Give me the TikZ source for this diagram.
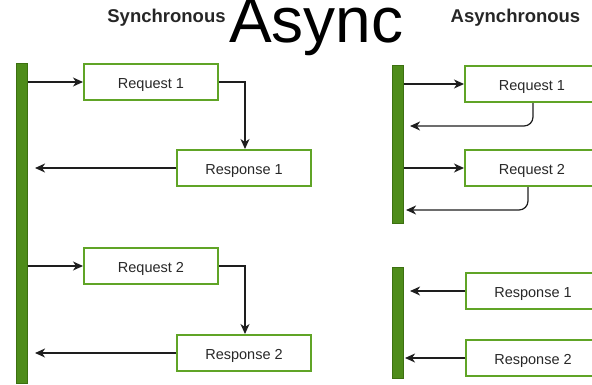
\documentclass[tikz,border=0pt]{standalone}
\usepackage{fontspec}
\setmainfont{Liberation Sans}
\usetikzlibrary{arrows.meta}
\definecolor{boxgreen}{RGB}{96,164,38}
\definecolor{barfill}{RGB}{78,140,26}
\definecolor{bardraw}{RGB}{60,112,16}
\definecolor{txt}{RGB}{40,40,40}
\definecolor{lne}{RGB}{30,30,30}
\tikzset{
  msgbox/.style={draw=boxgreen, line width=2pt, fill=white, minimum width=134pt, minimum height=36pt, inner sep=0pt, text height=13pt, text depth=0pt, text=txt, font=\fontsize{14.5pt}{16pt}\selectfont},
  lifebar/.style={draw=bardraw, fill=barfill, line width=0.6pt, minimum width=11.5pt, inner sep=0pt},
  arr/.style={draw=lne, line width=1.2pt, -{Stealth[length=10pt,width=9pt,inset=3pt]}},
  title/.style={font=\bfseries\fontsize{18.5pt}{20pt}\selectfont, text=black!85, inner sep=0pt, anchor=base}
}
\begin{document}
\begin{tikzpicture}[x=1pt,y=-1pt]
\useasboundingbox (0,0) rectangle (592,384);
\clip (0,0) rectangle (592,384);
% titles
\node[title] (tsync) at (166.5,22) {Synchronous};
\node[title] (tasync) at (515.5,22) {Asynchronous};
\node[font=\fontsize{64pt}{70pt}\selectfont, inner sep=0pt, anchor=base west] (big) at (229,42) {Async};
% synchronous
\node[lifebar, minimum height=320pt] (sbar) at (22,223) {};
\node[msgbox] (sreq1) at (151,82) {Request 1};
\node[msgbox] (sresp1) at (244,168) {Response 1};
\node[msgbox] (sreq2) at (151,266) {Request 2};
\node[msgbox] (sresp2) at (244,353) {Response 2};
\draw[arr] (sbar.east |- sreq1.west) -- (sreq1.west);
\draw[arr] (sreq1.east) -| ([xshift=1pt]sresp1.north);
\draw[arr] (sresp1.west) -- ([xshift=7pt]sbar.east |- sresp1.west);
\draw[arr] (sbar.east |- sreq2.west) -- (sreq2.west);
\draw[arr] (sreq2.east) -| ([xshift=1pt]sresp2.north);
\draw[arr] (sresp2.west) -- ([xshift=7pt]sbar.east |- sresp2.west);
% asynchronous
\node[lifebar, minimum height=158pt] (abar1) at (398,144) {};
\node[lifebar, minimum height=111pt] (abar2) at (398,322.5) {};
\node[msgbox] (areq1) at (532,84) {Request 1};
\node[msgbox] (areq2) at (532,168) {Request 2};
\node[msgbox] (aresp1) at (533,291) {Response 1};
\node[msgbox] (aresp2) at (533,358) {Response 2};
\coordinate (r1) at (0,126);
\coordinate (r2) at (0,210);
\draw[arr] (abar1.east |- areq1.west) -- (areq1.west);
\draw[arr, rounded corners=9pt] ([xshift=1pt]areq1.south) |- ([xshift=6pt]abar1.east |- r1);
\draw[arr] (abar1.east |- areq2.west) -- (areq2.west);
\draw[arr, rounded corners=9pt] ([xshift=-4pt]areq2.south) |- ([xshift=2pt]abar1.east |- r2);
\draw[arr] (aresp1.west) -- ([xshift=6pt]abar2.east |- aresp1.west);
\draw[arr] (aresp2.west) -- ([xshift=1pt]abar2.east |- aresp2.west);
\end{tikzpicture}
\end{document}
